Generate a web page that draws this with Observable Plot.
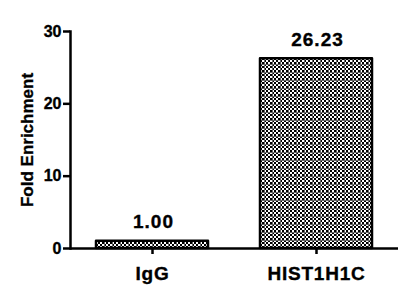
<!DOCTYPE html>
<html>
<head>
<meta charset="utf-8">
<script src="https://cdn.jsdelivr.net/npm/d3@7"></script>
<script src="https://cdn.jsdelivr.net/npm/@observablehq/plot@0.6"></script>
<style>
  html, body { margin: 0; padding: 0; background: #fff; }
  #chart svg { font-family: "Liberation Sans", Arial, sans-serif; font-weight: bold; }
  #chart g[aria-label="y-axis tick label"] { font-size: 16px; }
  #chart g[aria-label="x-axis tick label"] { font-size: 19px; letter-spacing: 0.8px; }
  #chart g[aria-label="y-axis label"] { font-size: 17px; }
  #chart g[aria-label="text"] { font-size: 19px; letter-spacing: 1px; }
  #chart g[aria-label="y-axis tick label"] text,
  #chart g[aria-label="x-axis tick label"] text,
  #chart g[aria-label="y-axis label"] text,
  #chart g[aria-label="text"] text { stroke: #000; stroke-width: 0.35px; }
</style>
</head>
<body>
<div id="chart"></div>
<script>
const categories = ["IgG", "HIST1H1C"];
const values = [1.00, 26.23];
const valueLabels = ["1.00", "26.23"];
const yTicks = [0, 10, 20, 30];
const yLabel = "Fold Enrichment";

const data = categories.map((c, i) => ({category: c, value: values[i], label: valueLabels[i]}));

const plot = Plot.plot({
  width: 408,
  height: 300,
  marginLeft: 70,
  marginRight: 10,
  marginTop: 31,
  marginBottom: 52,
  style: {fontFamily: "Liberation Sans, Arial, sans-serif", fontWeight: "bold", color: "#000", background: "#fff"},
  x: {domain: categories, paddingInner: 0.32, paddingOuter: 0.16, label: null},
  y: {domain: [0, 30], label: null},
  marks: [
    Plot.barY(data, {x: "category", y: "value", fill: "url(#chk)", stroke: "#000", strokeWidth: 2.5, strokeLinejoin: "round"}),
    Plot.ruleY([0], {stroke: "#000", strokeWidth: 2.5}),
    Plot.frame({anchor: "left", stroke: "#000", strokeWidth: 2.5}),
    Plot.axisY({ticks: yTicks, tickSize: 7, tickPadding: 2, strokeWidth: 2.5, label: yLabel, labelArrow: "none", labelAnchor: "center", labelOffset: 50}),
    Plot.axisX({tickSize: 6, tickPadding: 12, strokeWidth: 2.5, label: null}),
    Plot.text(data, {x: "category", y: "value", text: "label", lineAnchor: "bottom", dy: -13, dx: 1, fill: "#000"})
  ]
});

// remove any arrow glyph from the axis label
plot.querySelectorAll('g[aria-label="y-axis label"] text').forEach(t => {
  t.textContent = t.textContent.replace(/\s*[↑↓←→]\s*/g, "").trim();
});

// checker pattern definition
const svgNS = "http://www.w3.org/2000/svg";
const defs = document.createElementNS(svgNS, "defs");
defs.innerHTML = `
<pattern id="chk" patternUnits="userSpaceOnUse" width="8" height="8">
  <rect width="8" height="8" fill="#fff"/>
  <path d="M0 0h2v2h-2zM4 0h2v2h-2zM2 2h2v2h-2zM6 2h2v2h-2zM0 4h2v2h-2zM4 4h2v2h-2zM2 6h2v2h-2zM6 6h2v2h-2z" fill="#000"/>
  <rect x="0" y="0" width="8" height="1" fill="#666"/>
  <rect x="0" y="0" width="1" height="8" fill="#666"/>
</pattern>`;
plot.insertBefore(defs, plot.firstChild);
document.getElementById("chart").appendChild(plot);
</script>
</body>
</html>
